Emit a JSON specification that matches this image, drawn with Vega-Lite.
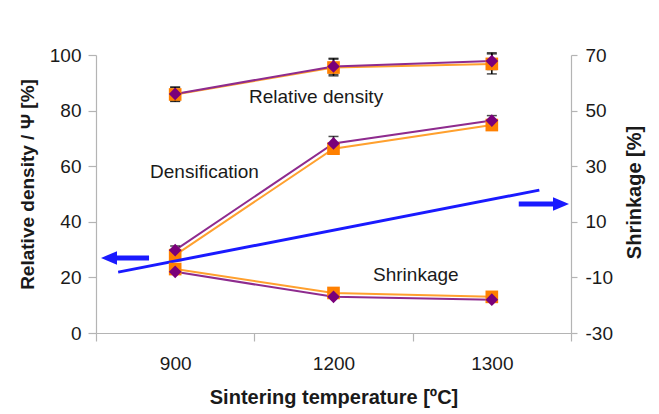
{
  "$schema": "https://vega.github.io/schema/vega-lite/v6.json",
  "width": 475,
  "height": 278,
  "autosize": {"type": "none"},
  "padding": {"left": 96, "top": 55, "right": 88, "bottom": 81},
  "background": "white",
  "config": {
    "view": {"stroke": null},
    "font": "Liberation Sans",
    "axis": {
      "grid": false,
      "domainColor": "#b4b4b4",
      "tickColor": "#b4b4b4",
      "domainWidth": 1.2,
      "tickWidth": 1.2,
      "labelFont": "Liberation Sans",
      "labelFontSize": 19,
      "labelColor": "#1a1a1a",
      "titleFont": "Liberation Sans",
      "titleFontSize": 20,
      "titleFontWeight": "bold",
      "titleColor": "#1a1a1a"
    },
    "legend": {"orient": "top", "direction": "horizontal", "offset": 8},
    "text": {"font": "Liberation Sans"}
  },
  "datasets": {
    "main": [
      {"series": "Ti-5%eq.Fe", "metric": "Relative density", "temp": 900, "value": 85.8, "lo": 83.3, "hi": 88.3},
      {"series": "Ti-5%eq.Fe", "metric": "Relative density", "temp": 1200, "value": 95.5, "lo": 92.5, "hi": 98.5},
      {"series": "Ti-5%eq.Fe", "metric": "Relative density", "temp": 1300, "value": 96.8, "lo": 93.2, "hi": 100.4},
      {"series": "Ti-5%eq.Fe", "metric": "Densification", "temp": 900, "value": 28, "lo": 26.5, "hi": 29.5},
      {"series": "Ti-5%eq.Fe", "metric": "Densification", "temp": 1200, "value": 66.3, "lo": 64.3, "hi": 68.3},
      {"series": "Ti-5%eq.Fe", "metric": "Densification", "temp": 1300, "value": 74.8, "lo": 73.3, "hi": 76.3},
      {"series": "Ti-5%eq.Fe", "metric": "Shrinkage", "temp": 900, "value": -7},
      {"series": "Ti-5%eq.Fe", "metric": "Shrinkage", "temp": 1200, "value": -15.6},
      {"series": "Ti-5%eq.Fe", "metric": "Shrinkage", "temp": 1300, "value": -17},
      {"series": "Ti-7%eq.Fe", "metric": "Relative density", "temp": 900, "value": 86, "lo": 83.5, "hi": 88.5},
      {"series": "Ti-7%eq.Fe", "metric": "Relative density", "temp": 1200, "value": 95.9, "lo": 93, "hi": 98.8},
      {"series": "Ti-7%eq.Fe", "metric": "Relative density", "temp": 1300, "value": 97.8, "lo": 94.8, "hi": 100.8},
      {"series": "Ti-7%eq.Fe", "metric": "Densification", "temp": 900, "value": 29.8, "lo": 28.3, "hi": 31.3},
      {"series": "Ti-7%eq.Fe", "metric": "Densification", "temp": 1200, "value": 68.2, "lo": 65.7, "hi": 70.7},
      {"series": "Ti-7%eq.Fe", "metric": "Densification", "temp": 1300, "value": 76.4, "lo": 74.6, "hi": 78.2},
      {"series": "Ti-7%eq.Fe", "metric": "Shrinkage", "temp": 900, "value": -8},
      {"series": "Ti-7%eq.Fe", "metric": "Shrinkage", "temp": 1200, "value": -17},
      {"series": "Ti-7%eq.Fe", "metric": "Shrinkage", "temp": 1300, "value": -18}
    ],
    "notes": [
      {"label": "Relative density", "temp": 1178, "value": 84.9},
      {"label": "Densification", "temp": 974, "value": 57.9},
      {"label": "Shrinkage", "temp": 1252, "value": 21}
    ],
    "guides": [
      {"kind": "line", "temp": 828, "temp2": 1330, "value": 21.9, "value2": 51.4},
      {"kind": "arrow", "temp": 867, "temp2": 816, "value": 27},
      {"kind": "arrow", "temp": 1317, "temp2": 1344, "value": 46.4}
    ],
    "headsLeft": [{"temp": 816.4, "value": 27}],
    "headsRight": [{"temp": 1343.7, "value": 46.4}]
  },
  "encoding": {
    "x": {
      "field": "temp",
      "type": "quantitative",
      "scale": {
        "domain": [800, 900, 1100, 1200, 1250, 1300, 1350],
        "range": [0, 79.17, 158.33, 237.5, 316.67, 395.83, 475],
        "nice": false,
        "zero": false
      },
      "axis": {
        "title": "Sintering temperature [ºC]",
        "values": [800, 900, 1100, 1200, 1250, 1300, 1350],
        "format": "d",
        "labelExpr": "indexof([900,1200,1300], datum.value) >= 0 ? datum.label : ''",
        "labelOverlap": false,
        "labelFlush": false,
        "tickSize": 8,
        "tickOpacity": {"condition": {"test": "indexof([900,1200,1300], datum.value) >= 0", "value": 0}, "value": 1},
        "labelPadding": 13,
        "titleY": 64,
        "titleBaseline": "middle"
      }
    }
  },
  "layer": [
    {
      "encoding": {
        "y": {
          "field": "value",
          "type": "quantitative",
          "scale": {"domain": [0, 100], "nice": false},
          "axis": {
            "title": "Relative density / Ψ [%]",
            "values": [0, 20, 40, 60, 80, 100],
            "tickSize": 8,
            "labelPadding": 7,
            "titleX": -69,
            "titleY": 129,
            "titleAngle": 270,
            "titleBaseline": "middle",
            "titleFontSize": 19
          }
        }
      },
      "layer": [
        {
          "data": {"name": "main"},
          "transform": [{"filter": "datum.metric != 'Shrinkage'"}],
          "mark": {"type": "line", "strokeWidth": 2},
          "encoding": {
            "stroke": {"field": "series", "type": "nominal", "scale": {"domain": ["Ti-5%eq.Fe", "Ti-7%eq.Fe"], "range": ["#ffa02e", "#8e2b8e"]}, "legend": null},
            "detail": {"field": "metric", "type": "nominal"}
          }
        },
        {
          "data": {"name": "main"},
          "transform": [{"filter": "datum.metric != 'Shrinkage'"}],
          "mark": {"type": "errorbar", "color": "black", "thickness": 1.5, "ticks": true, "size": 10},
          "encoding": {
            "y": {"field": "lo", "type": "quantitative", "title": "Relative density / Ψ [%]"},
            "y2": {"field": "hi"}
          }
        },
        {
          "data": {"name": "main"},
          "transform": [{"filter": "datum.metric != 'Shrinkage'"}],
          "mark": {"type": "point", "filled": true, "opacity": 1, "size": 160},
          "encoding": {
            "color": {
              "field": "series", "type": "nominal",
              "scale": {"domain": ["Ti-5%eq.Fe", "Ti-7%eq.Fe"], "range": ["#ff8000", "#7a007a"]},
              "legend": {
                "title": null,
                "symbolSize": 2116, "labelFontSize": 19, "labelFont": "Liberation Sans", "labelColor": "#1a1a1a",
                "labelOffset": 6, "columnPadding": 24, "symbolStrokeWidth": 2.5,
                "encode": {"symbols": {"update": {
                  "shape": {"signal": "datum.value === 'Ti-5%eq.Fe' ? 'M-1,0H1M-0.25,-0.25H0.25V0.25H-0.25Z' : 'M-1,0H1M0,-0.33L0.3,0L0,0.33L-0.3,0Z'"},
                  "stroke": {"signal": "datum.value === 'Ti-5%eq.Fe' ? '#ffa02e' : '#9a3a9a'"},
                  "fill": {"signal": "datum.value === 'Ti-5%eq.Fe' ? '#ff8000' : '#7a007a'"},
                  "strokeWidth": {"value": 2.5},
                  "opacity": {"value": 1}
                }}}
              }
            },
            "shape": {"field": "series", "type": "nominal", "scale": {"domain": ["Ti-5%eq.Fe", "Ti-7%eq.Fe"], "range": ["square", "diamond"]}, "legend": null}
          }
        },
        {
          "data": {"name": "notes"},
          "mark": {"type": "text", "fontSize": 19, "color": "#1a1a1a", "baseline": "middle", "align": "center"},
          "encoding": {"text": {"field": "label", "type": "nominal"}}
        },
        {
          "data": {"name": "guides"},
          "transform": [{"filter": "datum.kind == 'line'"}],
          "mark": {"type": "rule", "color": "#1a1aff", "strokeWidth": 3},
          "encoding": {"x2": {"field": "temp2"}, "y2": {"field": "value2"}}
        },
        {
          "data": {"name": "guides"},
          "transform": [{"filter": "datum.kind == 'arrow'"}],
          "mark": {"type": "rule", "color": "#1a1aff", "strokeWidth": 5},
          "encoding": {"x2": {"field": "temp2"}}
        },
        {
          "data": {"name": "headsLeft"},
          "mark": {"type": "point", "filled": true, "opacity": 1, "size": 256, "color": "#1a1aff", "shape": "M-1,0L1,-0.85L1,0.85Z"},
          "encoding": {}
        },
        {
          "data": {"name": "headsRight"},
          "mark": {"type": "point", "filled": true, "opacity": 1, "size": 256, "color": "#1a1aff", "shape": "M1,0L-1,-0.85L-1,0.85Z"},
          "encoding": {}
        }
      ]
    },
    {
      "data": {"name": "main"},
      "transform": [{"filter": "datum.metric == 'Shrinkage'"}],
      "encoding": {
        "y": {
          "field": "value",
          "type": "quantitative",
          "scale": {"domain": [-30, 70], "nice": false, "zero": false},
          "axis": {
            "orient": "right",
            "title": "Shrinkage [%]",
            "values": [-30, -10, 10, 30, 50, 70],
            "labelExpr": "replace(datum.label, '\u2212', '-')",
            "tickSize": 6,
            "labelPadding": 8,
            "titleX": 63,
            "titleY": 137,
            "titleAngle": 270,
            "titleBaseline": "middle"
          }
        }
      },
      "layer": [
        {
          "mark": {"type": "line", "strokeWidth": 2},
          "encoding": {
            "stroke": {"field": "series", "type": "nominal", "scale": {"domain": ["Ti-5%eq.Fe", "Ti-7%eq.Fe"], "range": ["#ffa02e", "#8e2b8e"]}, "legend": null}
          }
        },
        {
          "mark": {"type": "point", "filled": true, "opacity": 1, "size": 160},
          "encoding": {
            "color": {
              "field": "series", "type": "nominal",
              "scale": {"domain": ["Ti-5%eq.Fe", "Ti-7%eq.Fe"], "range": ["#ff8000", "#7a007a"]},
              "legend": null
            },
            "shape": {"field": "series", "type": "nominal", "scale": {"domain": ["Ti-5%eq.Fe", "Ti-7%eq.Fe"], "range": ["square", "diamond"]}, "legend": null}
          }
        }
      ]
    }
  ],
  "resolve": {"scale": {"y": "independent"}}
}
